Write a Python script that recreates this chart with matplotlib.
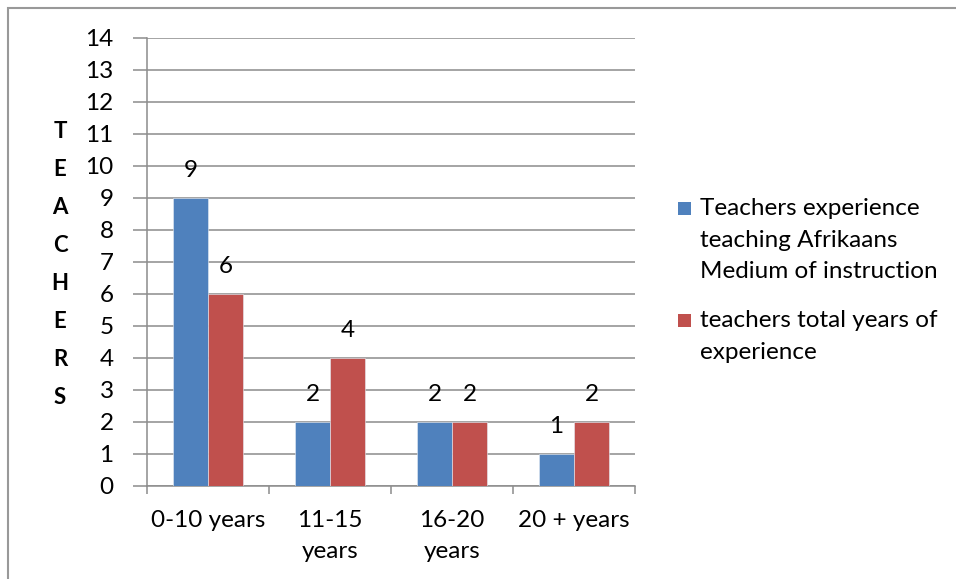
import matplotlib
matplotlib.use("Agg")
import matplotlib.pyplot as plt
from matplotlib.patches import Rectangle
import numpy as np

plt.rcParams['font.family'] = ['Lato', 'DejaVu Sans']

categories = ["0-10 years", "11-15\nyears", "16-20\nyears", "20 + years"]
series_names = ["Teachers experience\nteaching Afrikaans\nMedium of instruction",
                "teachers total years of\nexperience"]
afrikaans_medium = [9, 2, 2, 1]
total_years = [6, 4, 2, 2]
y_ticks = list(range(0, 15))
axis_letters = list("TEACHERS")

colors = ["#4F81BD", "#C0504D"]
grid_col = "#8C8C8C"
FS = 17.5

W, H = 956, 579
fig = plt.figure(figsize=(W / 100, H / 100), dpi=100)

def fx(px):
    return px / W

def fy(py):
    return 1 - py / H

ax = fig.add_axes([fx(147), fy(486), fx(635) - fx(147), fy(38) - fy(486)])

x = np.arange(len(categories))
bw = 0.287
series = [afrikaans_medium, total_years]
for i, (vals, col) in enumerate(zip(series, colors)):
    xs = x + (i - 0.5) * bw
    ax.bar(xs, vals, width=bw, color=col, edgecolor="#E6ECF5", linewidth=0.4, zorder=3)
    for xi, v in zip(xs, vals):
        ax.annotate(str(v), (xi, v), xytext=(0, 20), textcoords="offset points",
                    ha="center", va="center", fontsize=FS, color="black", zorder=4)

ax.set_xlim(-0.5, len(categories) - 0.5)
ax.set_ylim(0, 14)
ax.set_yticks(y_ticks)
ax.set_yticklabels([str(t) for t in y_ticks], fontsize=FS)
ax.yaxis.grid(True, color=grid_col, linewidth=1.1, zorder=0)
ax.set_axisbelow(True)

ax.set_xticks(x)
ax.set_xticklabels(categories, fontsize=FS, linespacing=1.62)
ax.set_xticks(np.arange(-0.5, len(categories), 1.0), minor=True)
ax.tick_params(axis="x", which="major", length=0, pad=17)
ax.tick_params(axis="x", which="minor", length=6, width=1.1, color=grid_col)
ax.tick_params(axis="y", length=10, width=1.1, color=grid_col, pad=14)

for s in ["top", "right"]:
    ax.spines[s].set_visible(False)
for s in ["left", "bottom"]:
    ax.spines[s].set_color(grid_col)
    ax.spines[s].set_linewidth(1.1)

# vertical stacked axis title
y0, y1 = 131, 398
for k, ch in enumerate(axis_letters):
    py = y0 + (y1 - y0) * k / (len(axis_letters) - 1)
    fig.text(fx(60), fy(py), ch, ha="center", va="center", fontsize=16,
             fontweight="bold")

# legend
leg_entries = [(208, series_names[0], colors[0]), (320, series_names[1], colors[1])]
for py, label, col in leg_entries:
    fig.patches.append(Rectangle((fx(678), fy(py + 7)), fx(13), fy(0) - fy(13),
                                 transform=fig.transFigure, facecolor=col,
                                 edgecolor="none"))
    fig.text(fx(700), fy(py - 10), label, ha="left", va="top", fontsize=FS,
             linespacing=1.62)

# outer border (top and left visible)
fig.patches.append(Rectangle((fx(8), fy(H + 20)), 1.2, fy(8) - fy(H + 20),
                             transform=fig.transFigure, facecolor="none",
                             edgecolor="#999999", linewidth=1.5))

fig.savefig("out.png", dpi=100)
